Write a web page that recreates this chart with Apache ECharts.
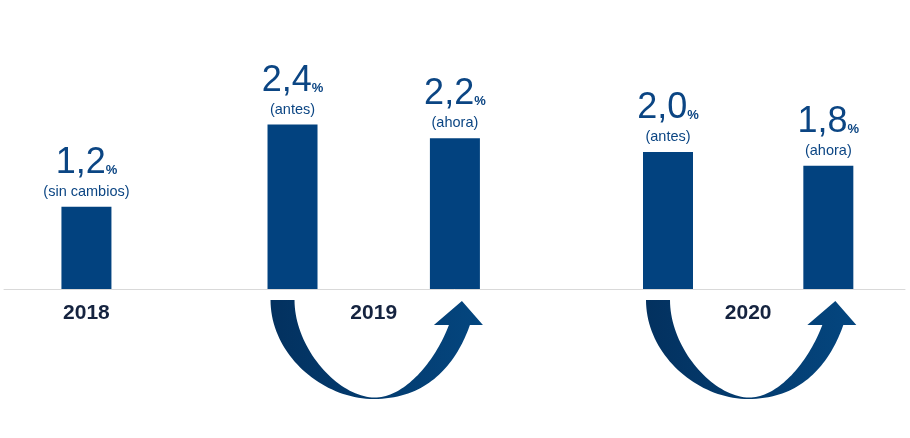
<!DOCTYPE html>
<html>
<head>
<meta charset="utf-8">
<script src="https://cdn.jsdelivr.net/npm/echarts@6/dist/echarts.min.js"></script>
<style>
html,body{margin:0;padding:0;background:#fff;}
#c{width:910px;height:438px;}
</style>
</head>
<body>
<div id="c"></div>
<script>
// ---- data ----
const categories = ['2018', '2019 antes', '2019 ahora', '2020 antes', '2020 ahora'];
const values = [1.2, 2.4, 2.2, 2.0, 1.8];
const valueLabels = ['1,2', '2,4', '2,2', '2,0', '1,8'];
const notes = ['(sin cambios)', '(antes)', '(ahora)', '(antes)', '(ahora)'];
const years = ['2018', '2019', '2020'];

// ---- layout (positions on the x scale) ----
const barSlots = [2, 7, 10.94, 16.11, 20];
const yearSlots = [barSlots[0], (barSlots[1] + barSlots[2]) / 2, (barSlots[3] + barSlots[4]) / 2];
const arrowPairs = [[1, 2], [3, 4]];

const FONT = '"Liberation Sans", Arial, sans-serif';
const BAR = '#02427f';
const TXT = '#0b4583';

const chart = echarts.init(document.getElementById('c'), null, {renderer: 'canvas'});

const option = {
  animation: false,
  backgroundColor: '#ffffff',
  grid: {left: 4, right: 5, top: 15, bottom: 149, containLabel: false},
  xAxis: {
    type: 'value', min: 0, max: 21.86,
    axisLine: {show: true, onZero: false, lineStyle: {color: '#d9d9d9', width: 1}},
    axisTick: {show: false}, axisLabel: {show: false}, splitLine: {show: false}
  },
  yAxis: {
    type: 'value', min: 0, max: 4, show: false, splitLine: {show: false}
  },
  series: [
    {
      type: 'bar',
      barWidth: 50,
      itemStyle: {color: BAR},
      data: values.map((v, i) => ({value: [barSlots[i], v], name: categories[i]})),
      label: {
        show: true,
        position: 'top',
        distance: 6,
        fontFamily: FONT,
        formatter: (p) => '{big|' + valueLabels[p.dataIndex] + '}{pct|%}\n{sub|' + notes[p.dataIndex] + '}',
        rich: {
          big: {fontSize: 36, lineHeight: 40, color: TXT, fontFamily: FONT},
          pct: {fontSize: 13, color: TXT, fontFamily: FONT, fontWeight: 'bold', padding: [15, 0, 0, 0]},
          sub: {fontSize: 14.5, lineHeight: 18, color: TXT, fontFamily: FONT}
        }
      }
    }
  ]
};

chart.setOption(option);

function cubic(p0, p1, p2, p3, n, out) {
  for (let i = 1; i <= n; i++) {
    const t = i / n, u = 1 - t;
    out.push([
      u * u * u * p0[0] + 3 * u * u * t * p1[0] + 3 * u * t * t * p2[0] + t * t * t * p3[0],
      u * u * u * p0[1] + 3 * u * u * t * p1[1] + 3 * u * t * t * p2[1] + t * t * t * p3[1]
    ]);
  }
}

function arrowPoints(xL, xR, y0) {
  const xm = (xL + xR) / 2;
  const A = [xL - 22, y0 + 11];   // outer left top
  const C = [xL + 2, y0 + 11];    // inner left top
  const B = [xm, y0 + 110];       // outer bottom
  const B2 = [xm + 1, y0 + 108.5];  // inner bottom (thin neck)
  const Ro = [xR + 15, y0 + 36];  // outer right shaft end
  const Ri = [xR - 6, y0 + 36];   // inner right shaft end
  const Hr = [xR + 28, y0 + 36];
  const Hl = [xR - 21, y0 + 36];
  const T = [xR + 7, y0 + 12];
  const n = 40;
  const pts = [A];
  // outer left: vertical at top, flat at bottom
  cubic(A, [A[0], A[1] + 0.55 * (B[1] - A[1])], [B[0] - 0.5 * (B[0] - A[0]), B[1]], B, n, pts);
  // outer right: flat at bottom, tilted near the head
  cubic(B, [B[0] + 0.6 * (Ro[0] - B[0]), B[1]], [Ro[0] - 12, Ro[1] + 34], Ro, n, pts);
  pts.push(Hr, T, Hl, Ri);
  // inner right
  cubic(Ri, [Ri[0] - 14, Ri[1] + 37], [B2[0] + 0.4 * (Ri[0] - B2[0]), B2[1]], B2, n, pts);
  // inner left
  cubic(B2, [B2[0] - 0.45 * (B2[0] - C[0]), B2[1]], [C[0], C[1] + 0.5 * (B2[1] - C[1])], C, n, pts);
  return pts;
}

const elements = [];
arrowPairs.forEach((pair, idx) => {
  const pL = chart.convertToPixel({gridIndex: 0}, [barSlots[pair[0]], 0]);
  const pR = chart.convertToPixel({gridIndex: 0}, [barSlots[pair[1]], 0]);
  elements.push({
    type: 'polygon',
    id: 'arrow' + idx,
    shape: {points: arrowPoints(pL[0], pR[0], pL[1])},
    style: {
      fill: {
        type: 'linear', x: 0, y: 0, x2: 1, y2: 0,
        colorStops: [{offset: 0, color: '#03315f'}, {offset: 1, color: '#04467f'}]
      }
    },
    silent: true
  });
});
years.forEach((y, i) => {
  const p = chart.convertToPixel({gridIndex: 0}, [yearSlots[i], 0]);
  elements.push({
    type: 'text',
    id: 'year' + i,
    x: p[0], y: p[1] + 24,
    style: {
      text: y, fill: '#15233f', fontFamily: FONT, fontSize: 21, fontWeight: 'bold',
      align: 'center', verticalAlign: 'middle'
    },
    silent: true
  });
});
chart.setOption({graphic: {elements: elements}});
</script>
</body>
</html>
